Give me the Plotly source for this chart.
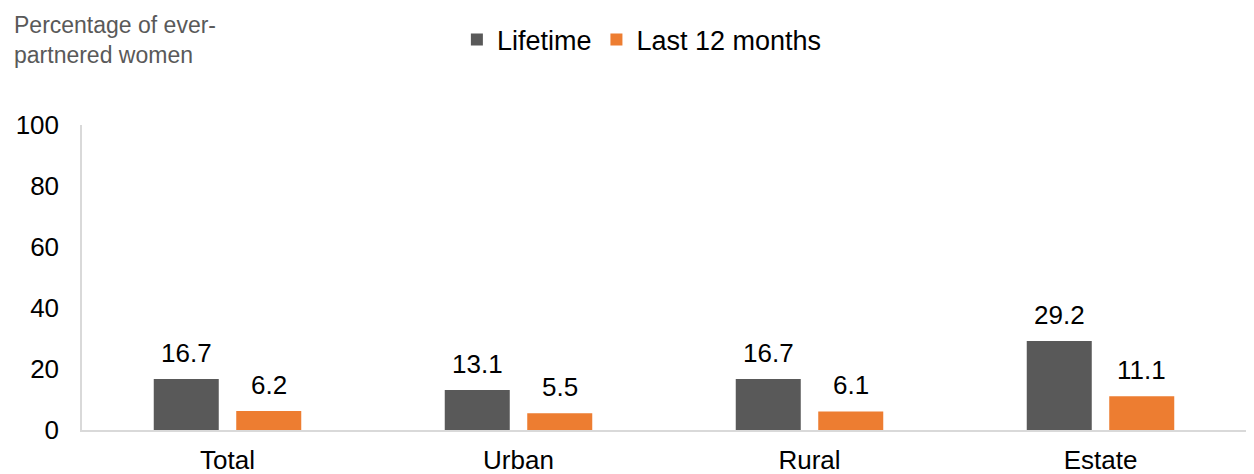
import plotly.graph_objects as go

categories = ["Total", "Urban", "Rural", "Estate"]
lifetime = [16.7, 13.1, 16.7, 29.2]
last12 = [6.2, 5.5, 6.1, 11.1]
series_names = ["Lifetime", "Last 12 months"]
y_ticks = [0, 20, 40, 60, 80, 100]

GRAY = "#595959"
ORANGE = "#ED7D31"
FONT = "Liberation Sans, Arial, sans-serif"
FS = 26

fig = go.Figure()
fig.add_trace(go.Bar(x=categories, y=lifetime, name=series_names[0],
                     marker=dict(color=GRAY, line=dict(width=0))))
fig.add_trace(go.Bar(x=categories, y=last12, name=series_names[1],
                     marker=dict(color=ORANGE, line=dict(width=0))))

annotations = []
for vals, shift in ((lifetime, -41), (last12, 41)):
    for c, v in zip(categories, vals):
        annotations.append(dict(x=c, y=v, xref="x", yref="y", text=f"{v:.1f}",
                                showarrow=False, xshift=shift, yanchor="bottom",
                                yshift=9, font=dict(size=FS, color="#000000", family=FONT)))

annotations.append(dict(x=-0.0601, y=1.378, xref="paper", yref="paper",
                        xanchor="left", yanchor="top", align="left", showarrow=False,
                        text="Percentage of ever-<br>partnered women",
                        font=dict(size=23, color="#595959", family=FONT)))

# The page body has an 8px default margin, so the figure is 8px smaller.
fig.update_layout(
    width=1246, height=466,
    margin=dict(l=74, r=8, t=117, b=44),
    paper_bgcolor="white", plot_bgcolor="white",
    barmode="group", bargap=0.433, bargroupgap=0.212,
    font=dict(family=FONT, size=FS, color="#000000"),
    legend=dict(orientation="h", x=0.481, xanchor="center", y=1.279, yanchor="middle",
                font=dict(size=27, color="#000000"), itemwidth=30,
                bgcolor="rgba(0,0,0,0)"),
    annotations=annotations,
    showlegend=True,
)
fig.update_xaxes(showline=True, linecolor="#D9D9D9", linewidth=1.5, showgrid=False,
                 ticks="", ticklabelstandoff=6, tickfont=dict(size=FS, color="#000000"),
                 automargin=False, fixedrange=True)
fig.update_yaxes(range=[0, 100], tickvals=y_ticks, showline=True, linecolor="#D9D9D9",
                 linewidth=1.5, showgrid=False, zeroline=False, ticks="",
                 ticklabelstandoff=16, tickfont=dict(size=FS, color="#000000"),
                 automargin=False, fixedrange=True)

fig.write_html("out.html")
